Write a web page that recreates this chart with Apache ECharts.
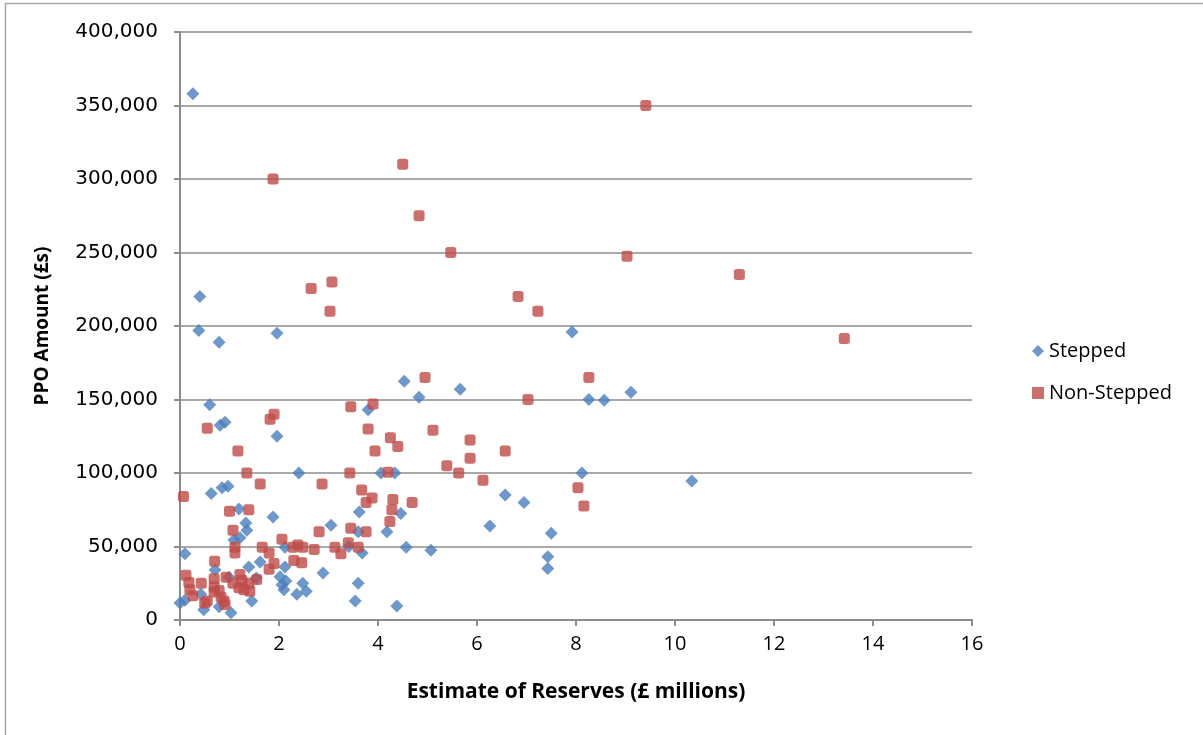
<!DOCTYPE html>
<html>
<head>
<meta charset="utf-8">
<title>PPO Amount vs Estimate of Reserves</title>
<script src="https://cdn.jsdelivr.net/npm/echarts@6/dist/echarts.min.js"></script>
<style>
  html, body { margin: 0; padding: 0; background: #ffffff; }
  #chart { width: 1203px; height: 735px; }
</style>
</head>
<body>
<div id="chart"></div>
<script>
// Estimate of reserves (£ millions) and PPO amount (£) for each stepped case
const steppedPoints = [
  [0.00, 11500], [0.10, 13500], [0.10, 45000], [0.26, 358000], [0.40, 220000],
  [0.38, 197000], [0.42, 17500], [0.48, 7000], [0.60, 146500], [0.63, 86000],
  [0.71, 34000], [0.79, 189000], [0.79, 9000], [0.81, 132500], [0.85, 90000],
  [0.91, 134500], [0.97, 91000], [0.99, 29000], [1.03, 5000], [1.09, 54500],
  [1.19, 75500], [1.21, 56000], [1.33, 66000], [1.35, 61000], [1.39, 36000],
  [1.45, 13000], [1.54, 28500], [1.62, 39500], [1.88, 70000], [1.96, 195000],
  [1.96, 125000], [2.02, 29500], [2.06, 24000], [2.10, 20500], [2.12, 36000],
  [2.14, 26500], [2.12, 49500], [2.36, 17500], [2.40, 100000], [2.48, 25000],
  [2.55, 19500], [2.89, 32000], [3.05, 64500], [3.41, 50000], [3.54, 13000],
  [3.60, 25000], [3.60, 60000], [3.62, 73500], [3.68, 45500], [3.80, 143000],
  [4.06, 100000], [4.34, 100000], [4.18, 60000], [4.38, 9500], [4.46, 72500],
  [4.53, 162500], [4.57, 49500], [4.83, 151500], [5.07, 47500], [5.66, 157000],
  [6.26, 64000], [6.57, 85000], [6.95, 80000], [7.43, 43000], [7.43, 35000],
  [7.50, 59000], [7.92, 196000], [8.12, 100000], [8.26, 150000], [8.57, 149500],
  [9.11, 155000], [10.34, 94500]
];

// Estimate of reserves (£ millions) and PPO amount (£) for each non-stepped case
const nonSteppedPoints = [
  [0.07, 84000], [0.12, 30500], [0.18, 25500], [0.20, 20500], [0.26, 16500],
  [0.43, 25000], [0.50, 11500], [0.55, 13000], [0.55, 130500], [0.69, 28000],
  [0.70, 40000], [0.69, 22500], [0.69, 19000], [0.79, 20000], [0.83, 15500],
  [0.89, 13000], [0.91, 10500], [0.93, 29000], [1.00, 74000], [1.07, 25000],
  [1.07, 61000], [1.11, 49500], [1.11, 45500], [1.17, 115000], [1.21, 31000],
  [1.25, 27000], [1.19, 22000], [1.29, 20500], [1.41, 19500], [1.39, 25000],
  [1.35, 100000], [1.39, 75000], [1.55, 27500], [1.62, 92500], [1.66, 49500],
  [1.80, 45500], [1.80, 34500], [1.90, 38500], [1.82, 136500], [1.90, 140000],
  [1.88, 300000], [2.06, 55000], [2.30, 40500], [2.46, 39000], [2.28, 49500],
  [2.38, 51000], [2.48, 49500], [2.65, 225500], [2.71, 48000], [2.81, 60000],
  [2.87, 92500], [3.03, 210000], [3.07, 230000], [3.13, 49500], [3.25, 45000],
  [3.40, 52500], [3.45, 62500], [3.43, 100000], [3.45, 145000], [3.60, 49500],
  [3.67, 88500], [3.76, 80000], [3.76, 60000], [3.80, 130000], [3.88, 83000],
  [3.90, 147000], [3.94, 115000], [4.20, 100500], [4.25, 124000], [4.30, 82000],
  [4.28, 75000], [4.24, 67000], [4.40, 118000], [4.50, 310000], [4.69, 80000],
  [4.83, 275000], [4.95, 165000], [5.11, 129000], [5.39, 105000], [5.47, 250000],
  [5.63, 100000], [5.86, 122500], [5.86, 110000], [6.12, 95000], [6.57, 115000],
  [6.83, 220000], [7.03, 150000], [7.23, 210000], [8.04, 90000], [8.16, 77500],
  [8.26, 165000], [9.03, 247500], [9.41, 350000], [11.30, 235000], [13.42, 191500]
];

const seriesNames = ['Stepped', 'Non-Stepped'];
const xTitle = 'Estimate of Reserves (£ millions)';
const yTitle = 'PPO Amount (£s)';

const axisGrey = '#8c8c8c';

function withCommas(v) {
  return String(Math.round(v)).replace(/\B(?=(\d{3})+(?!\d))/g, ',');
}

const chart = echarts.init(document.getElementById('chart'), null, { renderer: 'canvas' });

chart.setOption({
  backgroundColor: '#ffffff',
  animation: false,
  graphic: [{
    type: 'rect',
    shape: { x: 5.5, y: 3.5, width: 1400, height: 1000 },
    style: { fill: 'none', stroke: '#a6a6a6', lineWidth: 1.5 },
    silent: true
  }],
  grid: { left: 180, right: 231, top: 32, bottom: 115, containLabel: false },
  legend: {
    orient: 'vertical',
    left: 1027,
    top: 336,
    itemGap: 22,
    itemWidth: 12,
    itemHeight: 12,
    textStyle: { fontFamily: 'Open Sans', fontSize: 20, color: '#000000' },
    data: [
      { name: seriesNames[0], icon: 'diamond' },
      { name: seriesNames[1], icon: 'rect' }
    ]
  },
  xAxis: {
    type: 'value',
    min: 0,
    max: 16,
    interval: 2,
    name: xTitle,
    nameLocation: 'middle',
    nameGap: 62,
    nameTextStyle: { fontFamily: 'Open Sans', fontWeight: 'bold', fontSize: 21, color: '#000000' },
    axisLine: { show: true, onZero: false, lineStyle: { color: axisGrey, width: 2 } },
    axisTick: { show: true, inside: false, length: 6, lineStyle: { color: axisGrey, width: 2 } },
    axisLabel: { margin: 14, fontFamily: 'Open Sans', fontSize: 20, color: '#000000' },
    splitLine: { show: false }
  },
  yAxis: {
    type: 'value',
    min: 0,
    max: 400000,
    interval: 50000,
    name: yTitle,
    nameLocation: 'middle',
    nameGap: 128,
    nameRotate: 90,
    nameTextStyle: { fontFamily: 'Open Sans', fontWeight: 'bold', fontSize: 19, color: '#000000' },
    axisLine: { show: true, lineStyle: { color: axisGrey, width: 2 } },
    axisTick: { show: true, inside: false, length: 6, lineStyle: { color: axisGrey, width: 2 } },
    axisLabel: {
      margin: 22,
      fontFamily: 'DejaVu Sans',
      fontSize: 20,
      color: '#000000',
      formatter: withCommas
    },
    splitLine: { show: true, lineStyle: { color: axisGrey, width: 1.5 } }
  },
  series: [
    {
      name: seriesNames[0],
      type: 'scatter',
      symbol: 'diamond',
      symbolSize: 13,
      itemStyle: { color: '#4a7ebb' },
      data: steppedPoints
    },
    {
      name: seriesNames[1],
      type: 'scatter',
      symbol: 'roundRect',
      symbolSize: 11,
      itemStyle: { color: '#be4b48' },
      data: nonSteppedPoints
    }
  ]
});
</script>
</body>
</html>
